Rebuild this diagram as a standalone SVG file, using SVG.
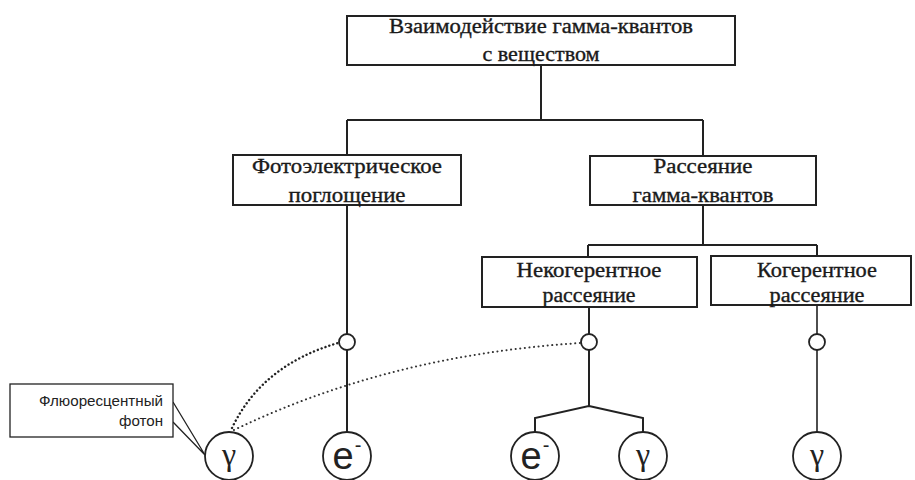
<svg xmlns="http://www.w3.org/2000/svg" width="915" height="480" viewBox="0 0 915 480">
<style>
.box{fill:#fff;stroke:#222;stroke-width:2}
.t{font-family:"Liberation Serif","Times New Roman",serif;font-size:20px;fill:#1a1a1a;stroke:#1a1a1a;stroke-width:0.35;text-anchor:middle}
.ln{fill:none;stroke:#222;stroke-width:2}
.dot1{fill:none;stroke:#222;stroke-width:2.4;stroke-dasharray:0.1 4;stroke-linecap:round}
.dot2{fill:none;stroke:#333;stroke-width:2;stroke-dasharray:0.1 4.5;stroke-linecap:round}
.sc{fill:#fff;stroke:#222;stroke-width:1.8}
.bc{fill:#fff;stroke:#222;stroke-width:1.8}
.e{font-family:"Liberation Sans",Arial,sans-serif;font-size:38px;fill:#222;text-anchor:middle}
.m{font-family:"Liberation Sans",Arial,sans-serif;font-size:20px;fill:#222;text-anchor:middle}
.g{font-family:"Liberation Serif","Times New Roman",serif;font-size:32px;fill:#222;text-anchor:middle}
.s{font-family:"Liberation Sans",Arial,sans-serif;font-size:14px;fill:#222;text-anchor:end}
</style>
<rect width="915" height="480" fill="#fff"/>
<g id="connectors">
<path class="ln" d="M541 65V120M347 120H703M347 120V155M703 120V156"/>
<path class="ln" d="M703 205V245M588 245H817M588 245V257M817 245V256"/>
<path class="ln" d="M347 205V334M347 350V432"/>
<path class="ln" d="M589 307V334M589 350V406L535 418V432M589 406L643 418V432"/>
<path class="ln" d="M817 306V334M817 350V432" style="stroke-width:1.6"/>
<path class="dot1" d="M232 428Q262 365 338 343"/>
<path class="dot2" d="M234 430Q390 355 580 343"/>
<path fill="none" stroke="#222" stroke-width="1.3" d="M173 402L205 455M173 422L205 455"/>
</g>
<g id="top">
<rect class="box" x="347" y="16" width="388" height="49"/>
<text class="t" x="541" y="33" textLength="304" lengthAdjust="spacingAndGlyphs">Взаимодействие гамма-квантов</text>
<text class="t" x="541" y="61" textLength="117" lengthAdjust="spacingAndGlyphs">с веществом</text>
</g>
<g id="photo">
<rect class="box" x="233" y="155" width="228" height="50"/>
<text class="t" x="347" y="173" textLength="190" lengthAdjust="spacingAndGlyphs">Фотоэлектрическое</text>
<text class="t" x="347" y="202" textLength="117" lengthAdjust="spacingAndGlyphs">поглощение</text>
</g>
<g id="scatter">
<rect class="box" x="590" y="156" width="226" height="49"/>
<text class="t" x="703" y="173" textLength="99" lengthAdjust="spacingAndGlyphs">Рассеяние</text>
<text class="t" x="703" y="202" textLength="141" lengthAdjust="spacingAndGlyphs">гамма-квантов</text>
</g>
<g id="incoherent">
<rect class="box" x="482" y="257" width="215" height="50"/>
<text class="t" x="589" y="277" textLength="145" lengthAdjust="spacingAndGlyphs">Некогерентное</text>
<text class="t" x="589" y="302" textLength="93" lengthAdjust="spacingAndGlyphs">рассеяние</text>
</g>
<g id="coherent">
<rect class="box" x="711" y="256" width="200" height="49"/>
<text class="t" x="817" y="277" textLength="120" lengthAdjust="spacingAndGlyphs">Когерентное</text>
<text class="t" x="817" y="302" textLength="95" lengthAdjust="spacingAndGlyphs">рассеяние</text>
</g>
<g id="v1"><circle class="sc" cx="347" cy="342" r="8"/></g>
<g id="v2"><circle class="sc" cx="589" cy="342" r="8"/></g>
<g id="v3"><circle class="sc" cx="817" cy="342" r="8"/></g>
<g id="fluor-gamma">
<circle class="bc" cx="229" cy="456" r="24"/>
<text class="g" x="229" y="465">γ</text>
</g>
<g id="photo-e">
<circle class="bc" cx="347" cy="456" r="24"/>
<text class="e" x="343" y="469">e</text><text class="m" x="358" y="452">-</text>
</g>
<g id="incoh-e">
<circle class="bc" cx="535" cy="456" r="24"/>
<text class="e" x="531" y="469">e</text><text class="m" x="546" y="452">-</text>
</g>
<g id="incoh-gamma">
<circle class="bc" cx="643" cy="456" r="24"/>
<text class="g" x="643" y="465">γ</text>
</g>
<g id="coh-gamma">
<circle class="bc" cx="817" cy="456" r="24"/>
<text class="g" x="817" y="465">γ</text>
</g>
<g id="callout">
<rect x="10" y="384" width="163" height="53" fill="#fff" stroke="#222" stroke-width="1.3"/>
<text class="s" x="163" y="406" textLength="124" lengthAdjust="spacingAndGlyphs">Флюоресцентный</text>
<text class="s" x="163" y="426" textLength="44" lengthAdjust="spacingAndGlyphs">фотон</text>
</g>
</svg>
